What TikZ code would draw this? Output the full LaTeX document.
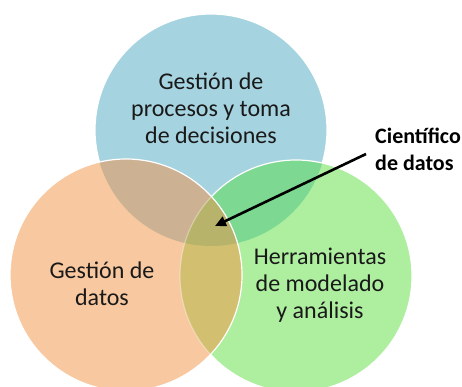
\documentclass[tikz,border=0pt]{standalone}
\usepackage{fontspec}
\setmainfont{Carlito}
\usepackage{xcolor}
\usepackage{tikz}
\usetikzlibrary{arrows.meta}

\definecolor{blueC}{RGB}{166,211,224}
\definecolor{orangeC}{RGB}{248,201,160}
\definecolor{greenC}{RGB}{174,238,159}
\definecolor{blueorange}{RGB}{204,178,147}
\definecolor{bluegreen}{RGB}{125,217,146}
\definecolor{orangegreen}{RGB}{211,191,112}
\definecolor{allthree}{RGB}{183,179,106}

\tikzset{
  ring/.style={draw=white, line width=1.2pt},
  label/.style={font=\fontsize{24pt}{27pt}\selectfont, align=center, text=black!90},
  role/.style={font=\fontsize{22pt}{27pt}\selectfont\bfseries, align=left, inner sep=2pt},
}

\begin{document}
\begin{tikzpicture}[x=1pt,y=-1pt]
\useasboundingbox (0,0) rectangle (462,387);
\coordinate (B) at (211,130);
\coordinate (O) at (126,275);
\coordinate (G) at (296,276);
\def\rad{116}

% top circle
\fill[blueC] (B) circle (\rad);
\draw[ring] (B) circle (\rad);

% right circle
\fill[greenC] (G) circle (\rad);
\begin{scope}
  \clip (B) circle (\rad);
  \fill[bluegreen] (G) circle (\rad);
\end{scope}
\draw[ring] (G) circle (\rad);

% left circle
\fill[orangeC] (O) circle (\rad);
\begin{scope}
  \clip (O) circle (\rad);
  \fill[blueorange] (B) circle (\rad);
  \fill[orangegreen] (G) circle (\rad);
  \clip (B) circle (\rad);
  \fill[allthree] (G) circle (\rad);
\end{scope}
\begin{scope}
  \clip (O) circle (\rad);
  \draw[ring, draw opacity=0.35] (G) circle (\rad);
\end{scope}
\draw[ring] (O) circle (\rad);

\node[label] (proc) at (211,108) {Gestión de\\procesos y toma\\de decisiones};
\node[label] (dat)  at (102,284) {Gestión de\\datos};
\node[label] (herr) at (320,285) {Herramientas\\de modelado\\y análisis};
\node[role, anchor=west] (sci) at (373,149) {Científico\\de datos};

\coordinate (tip) at (215,226);
\draw[line width=2.6pt, -{Triangle[length=11pt,width=10pt]}]
  ([shift={(-7,5)}]sci.west) -- (tip);
\end{tikzpicture}
\end{document}
